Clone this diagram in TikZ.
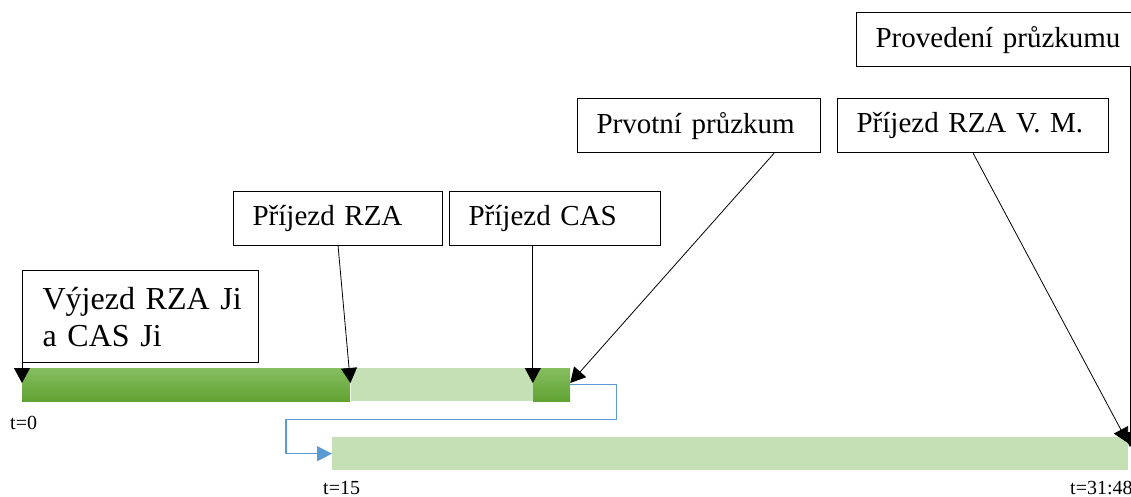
\documentclass[tikz,border=0pt]{standalone}
\usepackage{fontspec}
\setmainfont{Liberation Serif}
\usetikzlibrary{arrows.meta,positioning}

\definecolor{zelenaHorni}{HTML}{86BE60}
\definecolor{zelenaDolni}{HTML}{60A232}
\definecolor{zelenaSvetla}{HTML}{C5E0B4}
\definecolor{modra}{HTML}{5B9BD5}

\begin{document}
\begin{tikzpicture}[
    x=1pt, y=-1pt,
    udalost/.style={draw, line width=1.2pt, fill=white, anchor=north west,
      inner xsep=19pt, inner ysep=0pt, minimum height=54pt, align=left,
      font=\fontsize{29}{34}\selectfont},
    usek/.style={anchor=north west, inner sep=0pt, minimum height=33pt},
    tmavy/.style={usek, top color=zelenaHorni, bottom color=zelenaDolni},
    svetly/.style={usek, fill=zelenaSvetla},
    sipka/.style={line width=0.8pt, -{Triangle[width=16pt,length=15pt]}},
    presun/.style={draw=modra, line width=1.2pt, -{Triangle[width=15pt,length=15pt]}},
    cas/.style={anchor=base west, inner sep=0pt, font=\fontsize{20}{20}\selectfont}]

  \useasboundingbox (0,0) rectangle (1131,497);

  % ---- usecky casove osy ----------------------------------------------------
  \node[tmavy,  minimum width=328pt] (jizda)    at (22,368) {};
  \node[svetly, minimum width=182pt] (cekani)   at (jizda.north east) {};
  \node[tmavy,  minimum width=37pt]  (pruzkum1) at (cekani.north east) {};
  \node[svetly, minimum width=796pt] (pruzkum2) at (332,437) {};

  % ---- hroty sipek ----------------------------------------------------------
  \coordinate (h1) at ([yshift=-15pt]jizda.north west);
  \coordinate (h2) at ([yshift=-15pt]cekani.north west);
  \coordinate (h3) at ([yshift=-15pt]pruzkum1.north west);
  \coordinate (h4) at ([yshift=-15pt]pruzkum1.north east);
  \coordinate (h5) at (1128,443);
  \coordinate (h6) at (1130,447);

  % ---- udalosti -------------------------------------------------------------
  \node[udalost, text width=206pt, inner xsep=15pt, minimum height=92pt,
        font=\fontsize{32}{37}\selectfont] (vyjezd) at (22,270)
        {\hspace*{5pt}Výjezd RZA Ji\\\hspace*{5pt}a CAS Ji};
  \node[udalost, text width=171pt] (rza)       at (233,191) {Příjezd RZA};
  \node[udalost, text width=173pt] (cas)       at (449,191) {Příjezd CAS};
  \node[udalost, text width=205pt] (prvotni)   at (577,98)  {Prvotní průzkum};
  \node[udalost, text width=233pt] (vm)        at (837,98)  {Příjezd RZA V. M.};
  \node[udalost, text width=256pt] (provedeni) at (856,12)  {Provedení průzkumu};

  % ---- spojnice -------------------------------------------------------------
  \draw[sipka] (vyjezd.south west) -- (h1);
  \draw[sipka] (rza.south) -- (h2);
  \draw[sipka] (h3 |- cas.south) -- (h3);
  \draw[sipka] ([xshift=75pt]prvotni.south) -- (h4);
  \draw[sipka] (vm.south) -- (h5);
  \draw[sipka] (h6 |- provedeni.south) -- (h6);

  % prechod na druhou radu
  \draw[presun] (pruzkum1.east) -- ++(46,0) -- ++(0,35)
    -| ([xshift=-46pt]pruzkum2.west) -- (pruzkum2.west);

  % ---- casy -----------------------------------------------------------------
  \node[cas] (t0)  at (10,429)   {t=0};
  \node[cas] (t15) at (323,494)  {t=15};
  \node[cas] (t31) at (1070,494) {t=31:48};

\end{tikzpicture}
\end{document}
